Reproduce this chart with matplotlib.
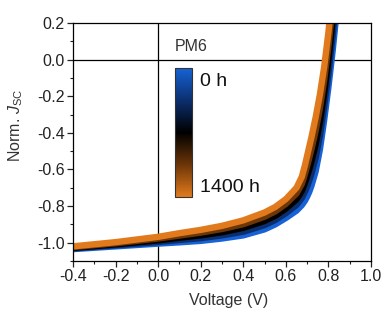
import numpy as np
import matplotlib
matplotlib.use("Agg")
import matplotlib.pyplot as plt
from matplotlib.colors import LinearSegmentedColormap, Normalize
from matplotlib.cm import ScalarMappable

plt.rcParams['font.family'] = ['Liberation Sans', 'DejaVu Sans']
plt.rcParams['mathtext.fontset'] = 'custom'
plt.rcParams['mathtext.rm'] = 'Liberation Sans'
plt.rcParams['mathtext.it'] = 'Liberation Sans:italic'

voltage = [-0.4, -0.2, 0.0, 0.1, 0.2, 0.3, 0.4, 0.5, 0.55, 0.6, 0.65, 0.675,
           0.69, 0.70, 0.71, 0.72, 0.74, 0.76, 0.78, 0.80, 0.82, 0.84]
hours = [0, 350, 700, 1050, 1400]
j_0h    = [-1.035, -1.020, -1.005, -0.998, -0.990, -0.977, -0.960, -0.927, -0.900, -0.865, -0.825, -0.795,
           -0.770, -0.748, -0.722, -0.690, -0.610, -0.490, -0.330, -0.150, 0.050, 0.280]
j_350h  = [-1.031, -1.014, -0.996, -0.985, -0.975, -0.960, -0.940, -0.904, -0.876, -0.839, -0.794, -0.756,
           -0.721, -0.692, -0.660, -0.624, -0.536, -0.415, -0.258, -0.075, 0.133, 0.368]
j_700h  = [-1.028, -1.009, -0.987, -0.973, -0.960, -0.943, -0.919, -0.881, -0.853, -0.814, -0.763, -0.718,
           -0.673, -0.637, -0.599, -0.558, -0.463, -0.340, -0.185, 0.000, 0.215, 0.455]
j_1050h = [-1.024, -1.003, -0.977, -0.961, -0.945, -0.925, -0.899, -0.858, -0.829, -0.788, -0.731, -0.679,
           -0.624, -0.581, -0.537, -0.491, -0.389, -0.265, -0.113, 0.075, 0.298, 0.543]
j_1400h = [-1.020, -0.997, -0.968, -0.948, -0.930, -0.908, -0.878, -0.835, -0.805, -0.762, -0.700, -0.640,
           -0.575, -0.525, -0.475, -0.425, -0.315, -0.190, -0.040, 0.150, 0.380, 0.630]
curves = [j_0h, j_350h, j_700h, j_1050h, j_1400h]

cmap = LinearSegmentedColormap.from_list(
    'bo', ['#1662d6', '#0b2f6e', '#000000', '#6b3508', '#e07a1c'])
norm = Normalize(vmin=0, vmax=1400)

fig = plt.figure(figsize=(3.89, 3.22), dpi=100)
ax = fig.add_axes([73/389, 1-261/322, 298/389, 238/322])

for h, j in zip(hours, curves):
    ax.plot(voltage, j, color=cmap(norm(h)), lw=4.6, solid_capstyle='butt',
            solid_joinstyle='round')

ax.axhline(0, color='black', lw=0.9, zorder=0.5)
ax.axvline(0, color='black', lw=0.9, zorder=0.5)

ax.set_xlim(-0.4, 1.0)
ax.set_ylim(-1.1, 0.2)
ax.set_xticks(np.arange(-0.4, 1.01, 0.2))
ax.set_yticks(np.arange(-1.0, 0.21, 0.2))
ax.set_xticks(np.arange(-0.3, 1.0, 0.2), minor=True)
ax.set_yticks(np.arange(-1.1, 0.2, 0.2), minor=True)
ax.set_xticklabels(['-0.4', '-0.2', '0.0', '0.2', '0.4', '0.6', '0.8', '1.0'])
ax.set_yticklabels(['-1.0', '-0.8', '-0.6', '-0.4', '-0.2', '0.0', '0.2'])
ax.tick_params(which='major', direction='out', length=4, width=0.9,
               labelsize=11.5, colors='#222222', pad=2)
ax.tick_params(which='minor', direction='out', length=2.5, width=0.8, colors='#222222')
for s in ax.spines.values():
    s.set_linewidth(0.9)

ax.set_xlabel('Voltage (V)', fontsize=11.5, color='#333333')
ax.xaxis.set_label_coords(0.523, -0.133)
ax.set_ylabel(r'Norm. $\mathit{J}_{\mathregular{SC}}$', fontsize=11.5, color='#333333')
ax.yaxis.set_label_coords(-0.16, 0.57)

ax.text(0.34, 0.903, 'PM6', transform=ax.transAxes, fontsize=11.5,
        color='#333333', va='center', ha='left')

cax = fig.add_axes([175/389, 1-197/322, 17/389, 129/322])
cb = fig.colorbar(ScalarMappable(norm=norm, cmap=cmap.reversed()), cax=cax)
cb.set_ticks([])
cb.outline.set_linewidth(0.8)
cb.outline.set_edgecolor('#333333')

fig.text(200/389, 1-81/322, '0 h', fontsize=14, color='#111111', va='center', ha='left')
fig.text(200/389, 1-187/322, '1400 h', fontsize=14, color='#111111', va='center', ha='left')

fig.savefig('out.png', dpi=100)
